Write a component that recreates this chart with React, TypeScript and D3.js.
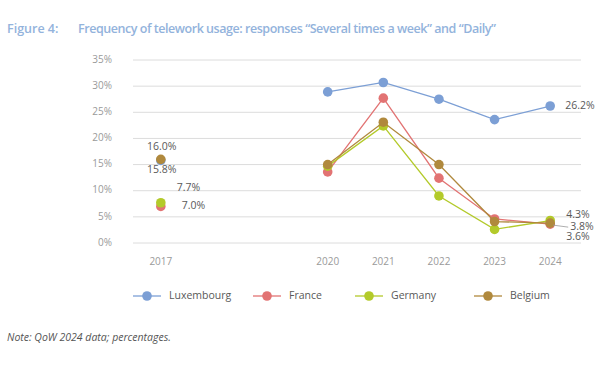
import React from 'react';
import * as d3 from 'd3';

// years on the x axis (2018 and 2019 have no data but keep their slot)
const years = [2017, 2018, 2019, 2020, 2021, 2022, 2023, 2024];
const tickYears = [2017, 2020, 2021, 2022, 2023, 2024];
const yTicks = [0, 5, 10, 15, 20, 25, 30, 35];

const luxembourg = [15.8, null, null, 28.9, 30.7, 27.5, 23.6, 26.2];
const france = [7.0, null, null, 13.6, 27.7, 12.4, 4.6, 3.6];
const germany = [7.7, null, null, 14.7, 22.4, 9.0, 2.6, 4.3];
const belgium = [16.0, null, null, 15.0, 23.1, 15.0, 4.1, 3.8];

const seriesNames = ['Luxembourg', 'France', 'Germany', 'Belgium'];
const seriesValues = [luxembourg, france, germany, belgium];
const colors = ['#7c9fd5', '#e27373', '#b3ca2a', '#b0893d'];

// which points get a value label, and where the text sits relative to the dot
const labels = [
  { s: 3, year: 2017, dx: 1, dy: -12, anchor: 'middle' },
  { s: 0, year: 2017, dx: 1, dy: 10, anchor: 'middle' },
  { s: 2, year: 2017, dx: 16, dy: -15, anchor: 'start' },
  { s: 1, year: 2017, dx: 21, dy: 0, anchor: 'start' },
  { s: 0, year: 2024, dx: 15, dy: 0, anchor: 'start' },
  { s: 2, year: 2024, dx: 16, dy: -5, anchor: 'start' },
  { s: 3, year: 2024, dx: 20, dy: 4, anchor: 'start', leader: true },
  { s: 1, year: 2024, dx: 16, dy: 13, anchor: 'start' },
];

const W = 600;
const H = 390;

export default function App() {
  const x = d3.scalePoint<number>().domain(years).range([133, 578]).padding(0.5);
  const y = d3.scaleLinear().domain([0, 35]).range([243, 60]);

  const line = d3
    .line<number | null>()
    .defined((d) => d != null)
    .x((d, i) => x(years[i]) as number)
    .y((d) => y(d as number));

  const legendX = [133, 253, 355, 474];

  return (
    <svg width={W} height={H} style={{ position: 'absolute', left: 0, top: 0, background: '#fff' }}>
      <g fontFamily="'Open Sans', sans-serif">
        <text x={7} y={30} fontSize={12.5} fontWeight={600} fill="#93b3dc" dominantBaseline="middle">
          Figure 4:
        </text>
        <text x={78} y={30} fontSize={12.5} fontWeight={600} fill="#93b3dc" dominantBaseline="middle" textLength={418}>
          Frequency of telework usage: responses “Several times a week” and “Daily”
        </text>

        {yTicks.map((t) => (
          <g key={t}>
            <line x1={133} x2={581} y1={y(t)} y2={y(t)} stroke="#dcdcdc" strokeWidth={1} />
            <text x={112} y={y(t)} fontSize={10} fill="#9a9a9a" textAnchor="end" dominantBaseline="middle">
              {t}%
            </text>
          </g>
        ))}

        {tickYears.map((yr) => (
          <text key={yr} x={x(yr)} y={262} fontSize={10} fill="#9a9a9a" textAnchor="middle" dominantBaseline="middle">
            {yr}
          </text>
        ))}

        {seriesValues.map((vals, s) => (
          <g key={seriesNames[s]}>
            <path d={line(vals) || ''} fill="none" stroke={colors[s]} strokeWidth={1.3} />
            {vals.map((v, i) =>
              v == null ? null : (
                <circle key={i} cx={x(years[i])} cy={y(v)} r={4.8} fill={colors[s]} />
              )
            )}
          </g>
        ))}

        {labels.map((l, k) => {
          const i = years.indexOf(l.year);
          const v = seriesValues[l.s][i] as number;
          const px = x(l.year) as number;
          const py = y(v);
          return (
            <g key={k}>
              {l.leader && (
                <line x1={px + 3} y1={py + 2} x2={px + l.dx - 2} y2={py + l.dy} stroke="#999" strokeWidth={0.8} />
              )}
              <text
                x={px + l.dx}
                y={py + l.dy}
                fontSize={10.5}
                fill="#595959"
                textAnchor={l.anchor}
                dominantBaseline="middle"
              >
                {v.toFixed(1)}%
              </text>
            </g>
          );
        })}

        {seriesNames.map((name, s) => (
          <g key={name} transform={`translate(${legendX[s]},296)`}>
            <line x1={0} x2={28} y1={0} y2={0} stroke={colors[s]} strokeWidth={1.3} />
            <circle cx={14} cy={0} r={4.8} fill={colors[s]} />
            <text x={36} y={0} fontSize={10.5} fill="#595959" dominantBaseline="middle">
              {name}
            </text>
          </g>
        ))}

        <text x={7} y={338} fontSize={10.5} fontStyle="italic" fill="#555" dominantBaseline="middle">
          Note: QoW 2024 data; percentages.
        </text>
      </g>
    </svg>
  );
}
